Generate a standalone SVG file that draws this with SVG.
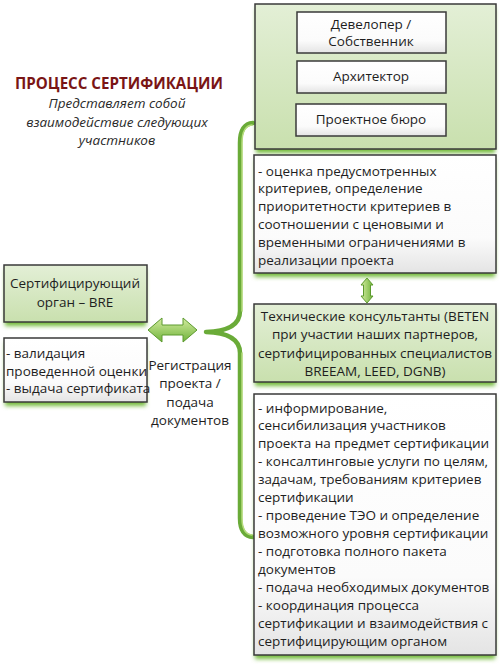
<svg xmlns="http://www.w3.org/2000/svg" width="500" height="667" viewBox="0 0 500 667">
<defs>
  <linearGradient id="gGreen" x1="0" y1="0" x2="0" y2="1">
    <stop offset="0" stop-color="#e3efd6"/>
    <stop offset="1" stop-color="#c9e0ae"/>
  </linearGradient>
  <linearGradient id="gWhite" x1="0" y1="0" x2="0" y2="1">
    <stop offset="0" stop-color="#ffffff"/>
    <stop offset="0.7" stop-color="#fbfbfb"/>
    <stop offset="1" stop-color="#e4e4e4"/>
  </linearGradient>
  <linearGradient id="gArrowH" x1="0" y1="0" x2="0" y2="1">
    <stop offset="0" stop-color="#d4ecA0"/>
    <stop offset="1" stop-color="#6fb33a"/>
  </linearGradient>
  <linearGradient id="gArrowV" x1="0" y1="0" x2="1" y2="0">
    <stop offset="0" stop-color="#d4eca0"/>
    <stop offset="1" stop-color="#6fb33a"/>
  </linearGradient>
  <filter id="glow" x="-10%" y="-10%" width="120%" height="130%">
    <feGaussianBlur stdDeviation="2"/>
  </filter>
</defs>
<style>
  .box { stroke:#3a3a3a; stroke-width:1.5; }
  .green { fill:url(#gGreen); }
  .white { fill:url(#gWhite); }
  .shadow { fill:#74bb3c; filter:url(#glow); }
  text { font-family:"Open Sans","Noto Sans","Liberation Sans",sans-serif; font-size:13.5px; fill:#1e1e1e; }
  .c { text-anchor:middle; }
  .title { font-weight:bold; font-size:15.5px; fill:#7a1515; }
  .sub { font-style:italic; font-size:13.5px; fill:#2a2a2a; }
  .brace { fill:none; stroke:#6aab38; stroke-width:4.5; stroke-linecap:round; stroke-linejoin:round; }
  .braceHi { fill:none; stroke:#b5dc7c; stroke-width:1.5; stroke-linecap:round; }
  .arrow { stroke:#5c9a2e; stroke-width:1; }
</style>

<g id="title">
  <text class="title c" x="119" y="89" textLength="208" lengthAdjust="spacingAndGlyphs">ПРОЦЕСС СЕРТИФИКАЦИИ</text>
  <text class="sub c" x="117" y="108">Представляет собой</text>
  <text class="sub c" x="117" y="127">взаимодействие следующих</text>
  <text class="sub c" x="117" y="145">участников</text>
</g>

<g id="connectors">
  <path class="brace" d="M253,123 Q240,124 240,143 V311 Q240,331 206,332 Q240,333 240,353 V518 Q240,536 253,537"/>
  <path class="braceHi" d="M252,125 Q242,126 242,143 V311 M242,353 V518 Q242,534 252,535"/>
  <polygon class="arrow" fill="url(#gArrowH)" points="148,330 162,318 162,325 183,325 183,318 197,330 183,342 183,335 162,335 162,342"/>
  <polygon class="arrow" fill="url(#gArrowV)" points="367,278 373,285 370.5,285 370.5,296 373,296 367,303 361,296 363.5,296 363.5,285 361,285"/>
</g>

<g id="participants">
  <rect class="shadow" x="256" y="8" width="239" height="145"/>
  <rect class="box green" x="255" y="4" width="241" height="145"/>
  <g id="developer">
    <rect class="box white" x="297" y="12" width="149" height="41"/>
    <text class="c" x="371" y="29">Девелопер /</text>
    <text class="c" x="371" y="46">Собственник</text>
  </g>
  <g id="architect">
    <rect class="box white" x="297" y="61" width="149" height="32"/>
    <text class="c" x="371" y="81">Архитектор</text>
  </g>
  <g id="bureau">
    <rect class="box white" x="296" y="104" width="150" height="32"/>
    <text class="c" x="371" y="124">Проектное бюро</text>
  </g>
</g>

<g id="participants-tasks">
  <rect class="shadow" x="255" y="159" width="240" height="118"/>
  <rect class="box white" x="254" y="155" width="242" height="118"/>
  <text x="258" y="176">- оценка предусмотренных</text>
  <text x="258" y="193">критериев, определение</text>
  <text x="258" y="211">приоритетности критериев в</text>
  <text x="258" y="229">соотношении с ценовыми и</text>
  <text x="258" y="247">временными ограничениями в</text>
  <text x="258" y="265">реализации проекта</text>
</g>

<g id="consultants">
  <rect class="shadow" x="255" y="308" width="240" height="78"/>
  <rect class="box green" x="254" y="304" width="242" height="78"/>
  <text class="c" x="375" y="321">Технические консультанты (BETEN</text>
  <text class="c" x="375" y="339">при участии наших партнеров,</text>
  <text class="c" x="375" y="358">сертифицированных специалистов</text>
  <text class="c" x="375" y="376">BREEAM, LEED, DGNB)</text>
</g>

<g id="consultants-tasks">
  <rect class="shadow" x="255" y="398" width="240" height="261"/>
  <rect class="box white" x="254" y="394" width="242" height="261"/>
  <text x="258" y="413">- информирование,</text>
  <text x="258" y="430">сенсибилизация участников</text>
  <text x="258" y="448">проекта на предмет сертификации</text>
  <text x="258" y="466">- консалтинговые услуги по целям,</text>
  <text x="258" y="484">задачам, требованиям критериев</text>
  <text x="258" y="502">сертификации</text>
  <text x="258" y="520">- проведение ТЭО и определение</text>
  <text x="258" y="538">возможного уровня сертификации</text>
  <text x="258" y="556">- подготовка полного пакета</text>
  <text x="258" y="574">документов</text>
  <text x="258" y="592">- подача необходимых документов</text>
  <text x="258" y="610">- координация процесса</text>
  <text x="258" y="628">сертификации и взаимодействия с</text>
  <text x="258" y="646">сертифицирующим органом</text>
</g>

<g id="bre">
  <rect class="shadow" x="5" y="269" width="141" height="57"/>
  <rect class="box green" x="4" y="265" width="143" height="57"/>
  <text class="c" x="75" y="288">Сертифицирующий</text>
  <text class="c" x="75" y="307">орган – BRE</text>
</g>

<g id="bre-tasks">
  <rect class="shadow" x="5" y="342" width="141" height="64"/>
  <rect class="box white" x="4" y="338" width="143" height="64"/>
  <text x="6" y="358">- валидация</text>
  <text x="6" y="376">проведенной оценки</text>
  <text x="6" y="393">- выдача сертификата</text>
</g>

<g id="registration">
  <text class="c" x="190" y="370">Регистрация</text>
  <text class="c" x="190" y="388">проекта /</text>
  <text class="c" x="190" y="407">подача</text>
  <text class="c" x="190" y="425">документов</text>
</g>
</svg>
